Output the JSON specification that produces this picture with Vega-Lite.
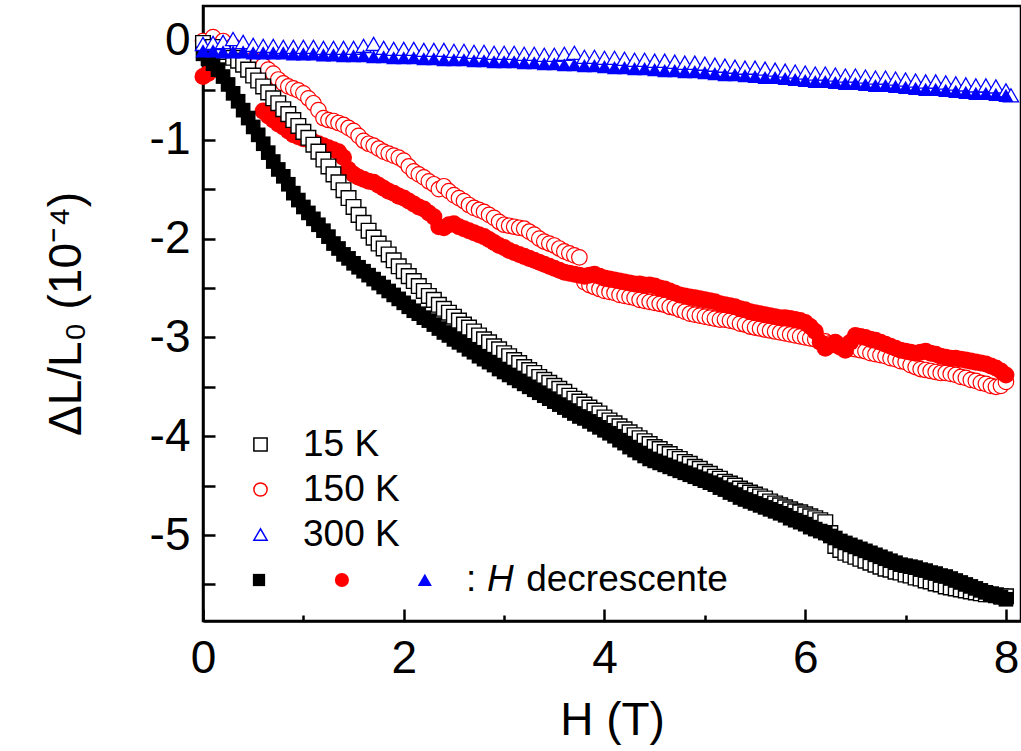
{
"$schema": "https://vega.github.io/schema/vega-lite/v6.json",
"width": 818, "height": 615,
"autosize": {"type": "none"},
"padding": {"left": 203, "top": 6, "right": 0, "bottom": 130},
"background": "white",
"config": {
 "view": {"stroke": "black", "strokeWidth": 2.5},
 "axis": {"grid": false, "domainColor": "black", "domainWidth": 2.5, "tickColor": "black", "tickWidth": 2.5,
  "labelFont": "Liberation Sans", "labelFontSize": 46, "labelColor": "black", "labelFlush": false,
  "titleFont": "Liberation Sans", "titleFontSize": 46, "titleFontWeight": "normal", "titleColor": "black"},
 "legend": {"orient": "none", "legendX": 39, "legendY": 420, "title": null, "padding": 0,
  "labelFont": "Liberation Sans", "labelFontSize": 37, "labelColor": "black", "labelOffset": 24,
  "rowPadding": 7, "symbolSize": 175, "symbolStrokeWidth": 1.5, "symbolFillColor": "white"}
},
"datasets": {
 "sq_o": [{"H":0.0,"v":-0.02},{"H":0.1,"v":-0.06},{"H":0.2,"v":-0.11},{"H":0.3,"v":-0.17},{"H":0.35,"v":-0.2},{"H":0.4,"v":-0.24},{"H":0.45,"v":-0.29},{"H":0.5,"v":-0.35},{"H":0.55,"v":-0.4},{"H":0.6,"v":-0.46},{"H":0.65,"v":-0.52},{"H":0.7,"v":-0.58},{"H":0.75,"v":-0.63},{"H":0.8,"v":-0.69},{"H":0.85,"v":-0.74},{"H":0.9,"v":-0.8},{"H":0.95,"v":-0.86},
  {"H":1.0,"v":-0.92},{"H":1.05,"v":-0.98},{"H":1.1,"v":-1.05},{"H":1.15,"v":-1.12},{"H":1.2,"v":-1.2},{"H":1.25,"v":-1.27},{"H":1.3,"v":-1.35},{"H":1.35,"v":-1.43},{"H":1.4,"v":-1.51},{"H":1.45,"v":-1.59},{"H":1.5,"v":-1.68},{"H":1.55,"v":-1.76},{"H":1.6,"v":-1.84},{"H":1.65,"v":-1.92},{"H":1.7,"v":-1.99},{"H":1.75,"v":-2.05},{"H":1.8,"v":-2.1},{"H":1.85,"v":-2.16},{"H":1.9,"v":-2.22},{"H":1.95,"v":-2.28},
  {"H":2.0,"v":-2.33},{"H":2.05,"v":-2.38},{"H":2.1,"v":-2.43},{"H":2.15,"v":-2.48},{"H":2.2,"v":-2.53},{"H":2.25,"v":-2.58},{"H":2.3,"v":-2.62},{"H":2.35,"v":-2.67},{"H":2.4,"v":-2.71},{"H":2.45,"v":-2.75},
  {"H":2.5,"v":-2.79},{"H":2.55,"v":-2.83},{"H":2.6,"v":-2.87},{"H":2.65,"v":-2.9},{"H":2.7,"v":-2.94},{"H":2.75,"v":-2.98},{"H":2.8,"v":-3.02},{"H":2.85,"v":-3.05},{"H":2.9,"v":-3.09},{"H":2.95,"v":-3.12},
  {"H":3.0,"v":-3.16},{"H":3.05,"v":-3.19},{"H":3.1,"v":-3.23},{"H":3.15,"v":-3.26},{"H":3.2,"v":-3.3},{"H":3.25,"v":-3.33},{"H":3.3,"v":-3.36},{"H":3.35,"v":-3.4},{"H":3.4,"v":-3.43},{"H":3.45,"v":-3.46},
  {"H":3.5,"v":-3.49},{"H":3.55,"v":-3.52},{"H":3.6,"v":-3.55},{"H":3.65,"v":-3.59},{"H":3.7,"v":-3.62},{"H":3.75,"v":-3.65},{"H":3.8,"v":-3.68},{"H":3.85,"v":-3.71},{"H":3.9,"v":-3.74},{"H":3.95,"v":-3.77},
  {"H":4.0,"v":-3.81},{"H":4.05,"v":-3.84},{"H":4.1,"v":-3.87},{"H":4.15,"v":-3.9},{"H":4.2,"v":-3.93},{"H":4.25,"v":-3.96},{"H":4.3,"v":-3.99},{"H":4.35,"v":-4.02},{"H":4.4,"v":-4.05},{"H":4.45,"v":-4.08},
  {"H":4.5,"v":-4.11},{"H":4.55,"v":-4.13},{"H":4.6,"v":-4.16},{"H":4.65,"v":-4.18},{"H":4.7,"v":-4.21},{"H":4.75,"v":-4.23},{"H":4.8,"v":-4.26},{"H":4.85,"v":-4.28},{"H":4.9,"v":-4.31},{"H":4.95,"v":-4.33},
  {"H":5.0,"v":-4.36},{"H":5.05,"v":-4.38},{"H":5.1,"v":-4.41},{"H":5.15,"v":-4.43},{"H":5.2,"v":-4.46},{"H":5.25,"v":-4.48},{"H":5.3,"v":-4.5},{"H":5.35,"v":-4.53},{"H":5.4,"v":-4.55},{"H":5.45,"v":-4.57},
  {"H":5.5,"v":-4.59},{"H":5.55,"v":-4.61},{"H":5.6,"v":-4.63},{"H":5.65,"v":-4.66},{"H":5.7,"v":-4.68},{"H":5.75,"v":-4.7},{"H":5.8,"v":-4.72},{"H":5.85,"v":-4.74},{"H":5.9,"v":-4.76},{"H":5.95,"v":-4.77},
  {"H":6.0,"v":-4.79},{"H":6.05,"v":-4.81},{"H":6.1,"v":-4.83},{"H":6.15,"v":-4.85},{"H":6.2,"v":-4.87},{"H":6.25,"v":-4.98},{"H":6.3,"v":-5.11},{"H":6.35,"v":-5.15},{"H":6.4,"v":-5.18},{"H":6.45,"v":-5.2},
  {"H":6.5,"v":-5.22},{"H":6.55,"v":-5.24},{"H":6.6,"v":-5.26},{"H":6.65,"v":-5.28},{"H":6.7,"v":-5.3},{"H":6.75,"v":-5.32},{"H":6.8,"v":-5.34},{"H":6.85,"v":-5.35},{"H":6.9,"v":-5.37},{"H":6.95,"v":-5.38},
  {"H":7.0,"v":-5.4},{"H":7.05,"v":-5.41},{"H":7.1,"v":-5.43},{"H":7.15,"v":-5.44},{"H":7.2,"v":-5.46},{"H":7.25,"v":-5.47},{"H":7.3,"v":-5.49},{"H":7.35,"v":-5.5},{"H":7.4,"v":-5.52},{"H":7.45,"v":-5.53},
  {"H":7.5,"v":-5.54},{"H":7.55,"v":-5.55},{"H":7.6,"v":-5.56},{"H":7.65,"v":-5.57},{"H":7.7,"v":-5.58},{"H":7.75,"v":-5.59},{"H":7.8,"v":-5.6},{"H":7.85,"v":-5.6},{"H":7.9,"v":-5.61},{"H":7.95,"v":-5.62},{"H":8.0,"v":-5.62}],
 "sq_f": [{"H":0.0,"v":-0.13},{"H":0.05,"v":-0.18},{"H":0.1,"v":-0.23},{"H":0.15,"v":-0.29},{"H":0.2,"v":-0.36},{"H":0.25,"v":-0.44},{"H":0.3,"v":-0.53},{"H":0.35,"v":-0.61},{"H":0.4,"v":-0.7},{"H":0.45,"v":-0.78},{"H":0.5,"v":-0.87},{"H":0.55,"v":-0.95},{"H":0.6,"v":-1.04},{"H":0.65,"v":-1.13},{"H":0.7,"v":-1.22},{"H":0.75,"v":-1.3},{"H":0.8,"v":-1.37},{"H":0.85,"v":-1.45},{"H":0.9,"v":-1.54},{"H":0.95,"v":-1.61},
  {"H":1.0,"v":-1.68},{"H":1.05,"v":-1.74},{"H":1.1,"v":-1.8},{"H":1.15,"v":-1.86},{"H":1.2,"v":-1.92},{"H":1.25,"v":-1.98},{"H":1.3,"v":-2.05},{"H":1.35,"v":-2.1},{"H":1.4,"v":-2.16},{"H":1.45,"v":-2.2},{"H":1.5,"v":-2.25},{"H":1.55,"v":-2.29},{"H":1.6,"v":-2.33},{"H":1.65,"v":-2.37},{"H":1.7,"v":-2.41},{"H":1.75,"v":-2.45},{"H":1.8,"v":-2.49},{"H":1.85,"v":-2.53},{"H":1.9,"v":-2.57},{"H":1.95,"v":-2.61},
  {"H":2.0,"v":-2.65},{"H":2.05,"v":-2.69},{"H":2.1,"v":-2.73},{"H":2.15,"v":-2.76},{"H":2.2,"v":-2.8},{"H":2.25,"v":-2.83},{"H":2.3,"v":-2.87},{"H":2.35,"v":-2.91},{"H":2.4,"v":-2.95},{"H":2.45,"v":-2.98},
  {"H":2.5,"v":-3.02},{"H":2.55,"v":-3.05},{"H":2.6,"v":-3.08},{"H":2.65,"v":-3.12},{"H":2.7,"v":-3.15},{"H":2.75,"v":-3.19},{"H":2.8,"v":-3.22},{"H":2.85,"v":-3.25},{"H":2.9,"v":-3.28},{"H":2.95,"v":-3.32},
  {"H":3.0,"v":-3.35},{"H":3.05,"v":-3.38},{"H":3.1,"v":-3.41},{"H":3.15,"v":-3.44},{"H":3.2,"v":-3.47},{"H":3.25,"v":-3.5},{"H":3.3,"v":-3.53},{"H":3.35,"v":-3.56},{"H":3.4,"v":-3.59},{"H":3.45,"v":-3.62},
  {"H":3.5,"v":-3.65},{"H":3.55,"v":-3.68},{"H":3.6,"v":-3.71},{"H":3.65,"v":-3.74},{"H":3.7,"v":-3.77},{"H":3.75,"v":-3.8},{"H":3.8,"v":-3.82},{"H":3.85,"v":-3.85},{"H":3.9,"v":-3.88},{"H":3.95,"v":-3.91},
  {"H":4.0,"v":-3.94},{"H":4.05,"v":-3.97},{"H":4.1,"v":-4.0},{"H":4.15,"v":-4.04},{"H":4.2,"v":-4.07},{"H":4.25,"v":-4.11},{"H":4.3,"v":-4.14},{"H":4.35,"v":-4.17},{"H":4.4,"v":-4.2},{"H":4.45,"v":-4.23},
  {"H":4.5,"v":-4.25},{"H":4.55,"v":-4.27},{"H":4.6,"v":-4.29},{"H":4.65,"v":-4.31},{"H":4.7,"v":-4.33},{"H":4.75,"v":-4.35},{"H":4.8,"v":-4.37},{"H":4.85,"v":-4.39},{"H":4.9,"v":-4.41},{"H":4.95,"v":-4.43},
  {"H":5.0,"v":-4.45},{"H":5.05,"v":-4.47},{"H":5.1,"v":-4.49},{"H":5.15,"v":-4.52},{"H":5.2,"v":-4.54},{"H":5.25,"v":-4.57},{"H":5.3,"v":-4.59},{"H":5.35,"v":-4.62},{"H":5.4,"v":-4.64},{"H":5.45,"v":-4.66},
  {"H":5.5,"v":-4.68},{"H":5.55,"v":-4.7},{"H":5.6,"v":-4.72},{"H":5.65,"v":-4.74},{"H":5.7,"v":-4.76},{"H":5.75,"v":-4.78},{"H":5.8,"v":-4.8},{"H":5.85,"v":-4.83},{"H":5.9,"v":-4.85},{"H":5.95,"v":-4.87},
  {"H":6.0,"v":-4.89},{"H":6.05,"v":-4.92},{"H":6.1,"v":-4.94},{"H":6.15,"v":-4.96},{"H":6.2,"v":-4.98},{"H":6.25,"v":-5.01},{"H":6.3,"v":-5.03},{"H":6.35,"v":-5.06},{"H":6.4,"v":-5.08},{"H":6.45,"v":-5.1},
  {"H":6.5,"v":-5.12},{"H":6.55,"v":-5.14},{"H":6.6,"v":-5.16},{"H":6.65,"v":-5.18},{"H":6.7,"v":-5.2},{"H":6.75,"v":-5.22},{"H":6.8,"v":-5.24},{"H":6.85,"v":-5.26},{"H":6.9,"v":-5.28},{"H":6.95,"v":-5.3},
  {"H":7.0,"v":-5.31},{"H":7.05,"v":-5.32},{"H":7.1,"v":-5.33},{"H":7.15,"v":-5.35},{"H":7.2,"v":-5.36},{"H":7.25,"v":-5.38},{"H":7.3,"v":-5.39},{"H":7.35,"v":-5.41},{"H":7.4,"v":-5.42},{"H":7.45,"v":-5.44},
  {"H":7.5,"v":-5.46},{"H":7.55,"v":-5.48},{"H":7.6,"v":-5.5},{"H":7.65,"v":-5.52},{"H":7.7,"v":-5.54},{"H":7.75,"v":-5.56},{"H":7.8,"v":-5.58},{"H":7.85,"v":-5.6},{"H":7.9,"v":-5.61},{"H":7.95,"v":-5.63},{"H":8.0,"v":-5.65}],
 "ci_o": [{"H":0.0,"v":0.0},{"H":0.1,"v":0.04},{"H":0.2,"v":0.0},{"H":0.3,"v":-0.05},{"H":0.4,"v":-0.11},
  {"H":0.5,"v":-0.19},{"H":0.55,"v":-0.22},{"H":0.6,"v":-0.25},{"H":0.65,"v":-0.29},{"H":0.7,"v":-0.33},{"H":0.75,"v":-0.39},{"H":0.8,"v":-0.43},{"H":0.85,"v":-0.46},{"H":0.9,"v":-0.48},{"H":0.95,"v":-0.5},
  {"H":1.0,"v":-0.53},{"H":1.05,"v":-0.58},{"H":1.1,"v":-0.63},{"H":1.15,"v":-0.7},{"H":1.2,"v":-0.78},{"H":1.25,"v":-0.8},{"H":1.3,"v":-0.81},{"H":1.35,"v":-0.83},{"H":1.4,"v":-0.85},{"H":1.45,"v":-0.88},
  {"H":1.5,"v":-0.91},{"H":1.55,"v":-0.96},{"H":1.6,"v":-1.01},{"H":1.65,"v":-1.04},{"H":1.7,"v":-1.06},{"H":1.75,"v":-1.09},{"H":1.8,"v":-1.12},{"H":1.85,"v":-1.14},{"H":1.9,"v":-1.16},{"H":1.95,"v":-1.18},
  {"H":2.0,"v":-1.21},{"H":2.05,"v":-1.27},{"H":2.1,"v":-1.32},{"H":2.15,"v":-1.35},{"H":2.2,"v":-1.38},{"H":2.25,"v":-1.42},{"H":2.3,"v":-1.45},{"H":2.35,"v":-1.5},{"H":2.4,"v":-1.47},{"H":2.45,"v":-1.52},
  {"H":2.5,"v":-1.56},{"H":2.55,"v":-1.59},{"H":2.6,"v":-1.62},{"H":2.65,"v":-1.66},{"H":2.7,"v":-1.69},{"H":2.75,"v":-1.71},{"H":2.8,"v":-1.73},{"H":2.85,"v":-1.76},{"H":2.9,"v":-1.79},{"H":2.95,"v":-1.83},
  {"H":3.0,"v":-1.86},{"H":3.05,"v":-1.87},{"H":3.1,"v":-1.88},{"H":3.15,"v":-1.89},{"H":3.2,"v":-1.9},{"H":3.25,"v":-1.93},{"H":3.3,"v":-1.96},{"H":3.35,"v":-2.0},{"H":3.4,"v":-2.03},{"H":3.45,"v":-2.05},
  {"H":3.5,"v":-2.07},{"H":3.55,"v":-2.1},{"H":3.6,"v":-2.13},{"H":3.65,"v":-2.15},{"H":3.7,"v":-2.17},{"H":3.75,"v":-2.19},
  {"H":3.8,"v":-2.44},{"H":3.85,"v":-2.47},{"H":3.9,"v":-2.49},{"H":3.95,"v":-2.51},{"H":4.0,"v":-2.53},{"H":4.05,"v":-2.54},{"H":4.1,"v":-2.55},{"H":4.15,"v":-2.57},{"H":4.2,"v":-2.58},{"H":4.25,"v":-2.59},
  {"H":4.3,"v":-2.6},{"H":4.35,"v":-2.62},{"H":4.4,"v":-2.63},{"H":4.45,"v":-2.64},{"H":4.5,"v":-2.65},{"H":4.55,"v":-2.66},{"H":4.6,"v":-2.67},{"H":4.65,"v":-2.69},{"H":4.7,"v":-2.7},{"H":4.75,"v":-2.72},
  {"H":4.8,"v":-2.74},{"H":4.85,"v":-2.76},{"H":4.9,"v":-2.77},{"H":4.95,"v":-2.78},{"H":5.0,"v":-2.79},{"H":5.05,"v":-2.8},{"H":5.1,"v":-2.81},{"H":5.15,"v":-2.82},{"H":5.2,"v":-2.82},{"H":5.25,"v":-2.83},
  {"H":5.3,"v":-2.84},{"H":5.35,"v":-2.86},{"H":5.4,"v":-2.87},{"H":5.45,"v":-2.89},{"H":5.5,"v":-2.9},{"H":5.55,"v":-2.91},{"H":5.6,"v":-2.92},{"H":5.65,"v":-2.93},{"H":5.7,"v":-2.94},{"H":5.75,"v":-2.95},
  {"H":5.8,"v":-2.96},{"H":5.85,"v":-2.97},{"H":5.9,"v":-2.98},{"H":5.95,"v":-2.99},{"H":6.0,"v":-3.0},{"H":6.05,"v":-3.01},{"H":6.1,"v":-3.02},{"H":6.15,"v":-3.03},{"H":6.2,"v":-3.04},{"H":6.25,"v":-3.06},
  {"H":6.3,"v":-3.07},{"H":6.35,"v":-3.08},{"H":6.4,"v":-3.09},{"H":6.45,"v":-3.11},{"H":6.5,"v":-3.12},{"H":6.55,"v":-3.13},{"H":6.6,"v":-3.14},{"H":6.65,"v":-3.16},{"H":6.7,"v":-3.17},{"H":6.75,"v":-3.18},
  {"H":6.8,"v":-3.19},{"H":6.85,"v":-3.21},{"H":6.9,"v":-3.22},{"H":6.95,"v":-3.24},{"H":7.0,"v":-3.25},{"H":7.05,"v":-3.28},{"H":7.1,"v":-3.3},{"H":7.15,"v":-3.32},{"H":7.2,"v":-3.33},{"H":7.25,"v":-3.34},
  {"H":7.3,"v":-3.35},{"H":7.35,"v":-3.36},{"H":7.4,"v":-3.36},{"H":7.45,"v":-3.37},{"H":7.5,"v":-3.38},{"H":7.55,"v":-3.4},{"H":7.6,"v":-3.41},{"H":7.65,"v":-3.43},{"H":7.7,"v":-3.44},{"H":7.75,"v":-3.46},
  {"H":7.8,"v":-3.47},{"H":7.85,"v":-3.49},{"H":7.9,"v":-3.5},{"H":7.95,"v":-3.49},{"H":8.0,"v":-3.45}],
 "ci_f": [{"H":0.0,"v":-0.36},{"H":0.05,"v":-0.33},{"H":0.1,"v":-0.29},
  {"H":0.6,"v":-0.71},{"H":0.65,"v":-0.76},{"H":0.7,"v":-0.8},{"H":0.75,"v":-0.84},{"H":0.8,"v":-0.87},{"H":0.85,"v":-0.91},{"H":0.9,"v":-0.95},{"H":0.95,"v":-0.97},
  {"H":1.0,"v":-0.99},{"H":1.05,"v":-1.0},{"H":1.1,"v":-1.02},{"H":1.15,"v":-1.04},{"H":1.2,"v":-1.06},{"H":1.25,"v":-1.08},{"H":1.3,"v":-1.1},{"H":1.35,"v":-1.12},{"H":1.4,"v":-1.18},{"H":1.45,"v":-1.3},
  {"H":1.5,"v":-1.35},{"H":1.55,"v":-1.38},{"H":1.6,"v":-1.4},{"H":1.65,"v":-1.42},{"H":1.7,"v":-1.43},{"H":1.75,"v":-1.46},{"H":1.8,"v":-1.49},{"H":1.85,"v":-1.52},{"H":1.9,"v":-1.54},{"H":1.95,"v":-1.57},
  {"H":2.0,"v":-1.59},{"H":2.05,"v":-1.62},{"H":2.1,"v":-1.65},{"H":2.15,"v":-1.68},{"H":2.2,"v":-1.7},{"H":2.25,"v":-1.74},{"H":2.3,"v":-1.78},{"H":2.35,"v":-1.88},{"H":2.4,"v":-1.89},{"H":2.45,"v":-1.86},
  {"H":2.5,"v":-1.85},{"H":2.55,"v":-1.88},{"H":2.6,"v":-1.9},{"H":2.65,"v":-1.92},{"H":2.7,"v":-1.94},{"H":2.75,"v":-1.96},{"H":2.8,"v":-1.98},{"H":2.85,"v":-2.01},{"H":2.9,"v":-2.04},{"H":2.95,"v":-2.07},
  {"H":3.0,"v":-2.09},{"H":3.05,"v":-2.12},{"H":3.1,"v":-2.14},{"H":3.15,"v":-2.16},{"H":3.2,"v":-2.18},{"H":3.25,"v":-2.2},{"H":3.3,"v":-2.22},{"H":3.35,"v":-2.24},{"H":3.4,"v":-2.26},{"H":3.45,"v":-2.28},
  {"H":3.5,"v":-2.3},{"H":3.55,"v":-2.32},{"H":3.6,"v":-2.34},{"H":3.65,"v":-2.35},{"H":3.7,"v":-2.36},{"H":3.75,"v":-2.37},{"H":3.8,"v":-2.38},{"H":3.85,"v":-2.37},{"H":3.9,"v":-2.36},{"H":3.95,"v":-2.38},
  {"H":4.0,"v":-2.4},{"H":4.05,"v":-2.41},{"H":4.1,"v":-2.42},{"H":4.15,"v":-2.43},{"H":4.2,"v":-2.44},{"H":4.25,"v":-2.45},{"H":4.3,"v":-2.46},{"H":4.35,"v":-2.46},{"H":4.4,"v":-2.47},{"H":4.45,"v":-2.47},
  {"H":4.5,"v":-2.48},{"H":4.55,"v":-2.5},{"H":4.6,"v":-2.51},{"H":4.65,"v":-2.53},{"H":4.7,"v":-2.55},{"H":4.75,"v":-2.57},{"H":4.8,"v":-2.58},{"H":4.85,"v":-2.59},{"H":4.9,"v":-2.6},{"H":4.95,"v":-2.61},
  {"H":5.0,"v":-2.62},{"H":5.05,"v":-2.63},{"H":5.1,"v":-2.64},{"H":5.15,"v":-2.66},{"H":5.2,"v":-2.67},{"H":5.25,"v":-2.68},{"H":5.3,"v":-2.69},{"H":5.35,"v":-2.71},{"H":5.4,"v":-2.72},{"H":5.45,"v":-2.74},
  {"H":5.5,"v":-2.75},{"H":5.55,"v":-2.76},{"H":5.6,"v":-2.77},{"H":5.65,"v":-2.78},{"H":5.7,"v":-2.79},{"H":5.75,"v":-2.8},{"H":5.8,"v":-2.8},{"H":5.85,"v":-2.81},{"H":5.9,"v":-2.82},{"H":5.95,"v":-2.83},
  {"H":6.0,"v":-2.85},{"H":6.05,"v":-2.89},{"H":6.1,"v":-2.94},{"H":6.15,"v":-3.05},{"H":6.2,"v":-3.11},{"H":6.25,"v":-3.08},{"H":6.3,"v":-3.05},{"H":6.35,"v":-3.1},{"H":6.4,"v":-3.13},{"H":6.45,"v":-3.05},
  {"H":6.5,"v":-2.98},{"H":6.55,"v":-2.99},{"H":6.6,"v":-3.0},{"H":6.65,"v":-3.02},{"H":6.7,"v":-3.03},{"H":6.75,"v":-3.05},{"H":6.8,"v":-3.07},{"H":6.85,"v":-3.09},{"H":6.9,"v":-3.11},{"H":6.95,"v":-3.13},
  {"H":7.0,"v":-3.14},{"H":7.05,"v":-3.15},{"H":7.1,"v":-3.16},{"H":7.15,"v":-3.15},{"H":7.2,"v":-3.14},{"H":7.25,"v":-3.16},{"H":7.3,"v":-3.17},{"H":7.35,"v":-3.19},{"H":7.4,"v":-3.2},{"H":7.45,"v":-3.21},
  {"H":7.5,"v":-3.21},{"H":7.55,"v":-3.22},{"H":7.6,"v":-3.23},{"H":7.65,"v":-3.24},{"H":7.7,"v":-3.25},{"H":7.75,"v":-3.26},{"H":7.8,"v":-3.27},{"H":7.85,"v":-3.29},{"H":7.9,"v":-3.31},{"H":7.95,"v":-3.34},{"H":8.0,"v":-3.38}],
 "tr_o": [{"H":0.0,"v":-0.03},{"H":0.1,"v":-0.02},{"H":0.2,"v":-0.01},{"H":0.3,"v":0.02},{"H":0.4,"v":-0.01},{"H":0.5,"v":-0.04},{"H":0.6,"v":-0.05},{"H":0.7,"v":-0.05},{"H":0.8,"v":-0.06},{"H":0.9,"v":-0.06},
  {"H":1.0,"v":-0.06},{"H":1.1,"v":-0.06},{"H":1.2,"v":-0.07},{"H":1.3,"v":-0.07},{"H":1.4,"v":-0.07},{"H":1.5,"v":-0.07},{"H":1.6,"v":-0.05},{"H":1.7,"v":-0.03},{"H":1.8,"v":-0.07},{"H":1.9,"v":-0.08},
  {"H":2.0,"v":-0.08},{"H":2.1,"v":-0.08},{"H":2.2,"v":-0.09},{"H":2.3,"v":-0.09},{"H":2.4,"v":-0.09},{"H":2.5,"v":-0.1},{"H":2.6,"v":-0.1},{"H":2.7,"v":-0.11},{"H":2.8,"v":-0.11},{"H":2.9,"v":-0.12},
  {"H":3.0,"v":-0.12},{"H":3.1,"v":-0.12},{"H":3.2,"v":-0.13},{"H":3.3,"v":-0.13},{"H":3.4,"v":-0.14},{"H":3.5,"v":-0.14},{"H":3.6,"v":-0.13},{"H":3.7,"v":-0.12},{"H":3.8,"v":-0.16},{"H":3.9,"v":-0.16},
  {"H":4.0,"v":-0.17},{"H":4.1,"v":-0.17},{"H":4.2,"v":-0.18},{"H":4.3,"v":-0.19},{"H":4.4,"v":-0.19},{"H":4.5,"v":-0.2},{"H":4.6,"v":-0.2},{"H":4.7,"v":-0.21},{"H":4.8,"v":-0.22},{"H":4.9,"v":-0.22},
  {"H":5.0,"v":-0.23},{"H":5.1,"v":-0.24},{"H":5.2,"v":-0.25},{"H":5.3,"v":-0.26},{"H":5.4,"v":-0.27},{"H":5.5,"v":-0.27},{"H":5.6,"v":-0.28},{"H":5.7,"v":-0.29},{"H":5.8,"v":-0.3},{"H":5.9,"v":-0.31},
  {"H":6.0,"v":-0.32},{"H":6.1,"v":-0.33},{"H":6.2,"v":-0.33},{"H":6.3,"v":-0.34},{"H":6.4,"v":-0.35},{"H":6.5,"v":-0.35},{"H":6.6,"v":-0.36},{"H":6.7,"v":-0.37},{"H":6.8,"v":-0.37},{"H":6.9,"v":-0.38},
  {"H":7.0,"v":-0.39},{"H":7.1,"v":-0.4},{"H":7.2,"v":-0.41},{"H":7.3,"v":-0.41},{"H":7.4,"v":-0.42},{"H":7.5,"v":-0.43},{"H":7.6,"v":-0.44},{"H":7.7,"v":-0.45},{"H":7.8,"v":-0.45},{"H":7.9,"v":-0.46},{"H":8.0,"v":-0.5},{"H":8.05,"v":-0.55}],
 "tr_f": [{"H":0.0,"v":-0.1},{"H":0.1,"v":-0.1},{"H":0.2,"v":-0.11},{"H":0.3,"v":-0.11},{"H":0.4,"v":-0.11},{"H":0.5,"v":-0.12},{"H":0.6,"v":-0.12},{"H":0.7,"v":-0.12},{"H":0.8,"v":-0.12},{"H":0.9,"v":-0.13},
  {"H":1.0,"v":-0.13},{"H":1.1,"v":-0.13},{"H":1.2,"v":-0.14},{"H":1.3,"v":-0.14},{"H":1.4,"v":-0.15},{"H":1.5,"v":-0.15},{"H":1.6,"v":-0.15},{"H":1.7,"v":-0.16},{"H":1.8,"v":-0.16},{"H":1.9,"v":-0.17},
  {"H":2.0,"v":-0.17},{"H":2.1,"v":-0.17},{"H":2.2,"v":-0.18},{"H":2.3,"v":-0.18},{"H":2.4,"v":-0.19},{"H":2.5,"v":-0.19},{"H":2.6,"v":-0.19},{"H":2.7,"v":-0.2},{"H":2.8,"v":-0.2},{"H":2.9,"v":-0.21},
  {"H":3.0,"v":-0.21},{"H":3.1,"v":-0.21},{"H":3.2,"v":-0.22},{"H":3.3,"v":-0.22},{"H":3.4,"v":-0.23},{"H":3.5,"v":-0.23},{"H":3.6,"v":-0.24},{"H":3.7,"v":-0.24},{"H":3.8,"v":-0.25},{"H":3.9,"v":-0.25},
  {"H":4.0,"v":-0.26},{"H":4.1,"v":-0.27},{"H":4.2,"v":-0.27},{"H":4.3,"v":-0.28},{"H":4.4,"v":-0.28},{"H":4.5,"v":-0.29},{"H":4.6,"v":-0.3},{"H":4.7,"v":-0.3},{"H":4.8,"v":-0.31},{"H":4.9,"v":-0.31},
  {"H":5.0,"v":-0.32},{"H":5.1,"v":-0.33},{"H":5.2,"v":-0.34},{"H":5.3,"v":-0.34},{"H":5.4,"v":-0.35},{"H":5.5,"v":-0.36},{"H":5.6,"v":-0.37},{"H":5.7,"v":-0.37},{"H":5.8,"v":-0.38},{"H":5.9,"v":-0.39},
  {"H":6.0,"v":-0.4},{"H":6.1,"v":-0.41},{"H":6.2,"v":-0.41},{"H":6.3,"v":-0.42},{"H":6.4,"v":-0.43},{"H":6.5,"v":-0.43},{"H":6.6,"v":-0.44},{"H":6.7,"v":-0.45},{"H":6.8,"v":-0.45},{"H":6.9,"v":-0.46},
  {"H":7.0,"v":-0.47},{"H":7.1,"v":-0.48},{"H":7.2,"v":-0.49},{"H":7.3,"v":-0.49},{"H":7.4,"v":-0.5},{"H":7.5,"v":-0.51},{"H":7.6,"v":-0.52},{"H":7.7,"v":-0.53},{"H":7.8,"v":-0.53},{"H":7.9,"v":-0.54},{"H":8.0,"v":-0.55}]
},
"encoding": {
 "x": {"field": "H", "type": "quantitative", "scale": {"domain": [0, 8.15], "nice": false, "zero": false},
  "axis": {"values": [0,1,2,3,4,5,6,7,8], "labelExpr": "datum.value % 2 === 0 ? datum.label : ''",
   "tickSize": {"condition": {"test": "datum.value % 2 === 0", "value": -12}, "value": -6},
   "labelPadding": 27, "title": "H (T)", "titlePadding": 17}},
 "y": {"field": "v", "type": "quantitative", "scale": {"domain": [-5.87, 0.354], "nice": false, "zero": false},
  "axis": {"values": [-5.5,-5,-4.5,-4,-3.5,-3,-2.5,-2,-1.5,-1,-0.5,0],
   "labelExpr": "datum.value % 1 === 0 ? (datum.value < 0 ? '-' + (-datum.value) : '0') : ''",
   "tickSize": -12, "labelPadding": 25, "title": "ΔL/L₀ (10⁻⁴)", "titlePadding": 59}}
},
"layer": [
 {"data": {"name": "ci_o"}, "mark": {"type": "point", "shape": "circle", "filled": true, "fill": "white", "strokeWidth": 1.2, "size": 240, "opacity": 1},
  "encoding": {"stroke": {"datum": "150 K", "scale": {"domain": ["15 K", "150 K", "300 K"], "range": ["black", "#ff0000", "#0000ff"]}},
   "shape": {"datum": "150 K", "scale": {"domain": ["15 K", "150 K", "300 K"], "range": ["square", "circle", "triangle-up"]}}}},
 {"data": {"name": "ci_f"}, "mark": {"type": "point", "shape": "circle", "filled": true, "color": "#ff0000", "size": 290, "opacity": 1}},
 {"data": {"name": "sq_o"}, "mark": {"type": "point", "shape": "square", "filled": true, "fill": "white", "strokeWidth": 1.4, "size": 215, "opacity": 1},
  "encoding": {"stroke": {"datum": "15 K"}, "shape": {"datum": "15 K"}}},
 {"data": {"name": "sq_f"}, "mark": {"type": "point", "shape": "square", "filled": true, "color": "black", "size": 215, "opacity": 1}},
 {"data": {"name": "tr_o"}, "mark": {"type": "point", "shape": "triangle-up", "filled": true, "fill": "white", "strokeWidth": 1.3, "size": 230, "opacity": 1},
  "encoding": {"stroke": {"datum": "300 K"}, "shape": {"datum": "300 K"}}},
 {"data": {"name": "tr_f"}, "mark": {"type": "point", "shape": "triangle-up", "filled": true, "color": "#0000ff", "size": 230, "opacity": 1}},
 {"data": {"values": [{"H": 0.558, "v": -5.455}]}, "mark": {"type": "point", "shape": "square", "filled": true, "color": "black", "size": 150, "opacity": 1}},
 {"data": {"values": [{"H": 1.384, "v": -5.455}]}, "mark": {"type": "point", "shape": "circle", "filled": true, "color": "#ff0000", "size": 200, "opacity": 1}},
 {"data": {"values": [{"H": 2.21, "v": -5.455}]}, "mark": {"type": "point", "shape": "triangle-up", "filled": true, "color": "#0000ff", "size": 200, "opacity": 1}},
 {"data": {"values": [{"H": 2.62, "v": -5.455, "t": ":"}, {"H": 3.22, "v": -5.455, "t": "decrescente"}]},
  "mark": {"type": "text", "align": "left", "baseline": "middle", "font": "Liberation Sans", "fontSize": 37, "color": "black"},
  "encoding": {"text": {"field": "t"}}},
 {"data": {"values": [{"H": 2.83, "v": -5.455, "t": "H"}]},
  "mark": {"type": "text", "align": "left", "baseline": "middle", "font": "Liberation Sans", "fontSize": 37, "fontStyle": "italic", "color": "black"},
  "encoding": {"text": {"field": "t"}}}
]
}
